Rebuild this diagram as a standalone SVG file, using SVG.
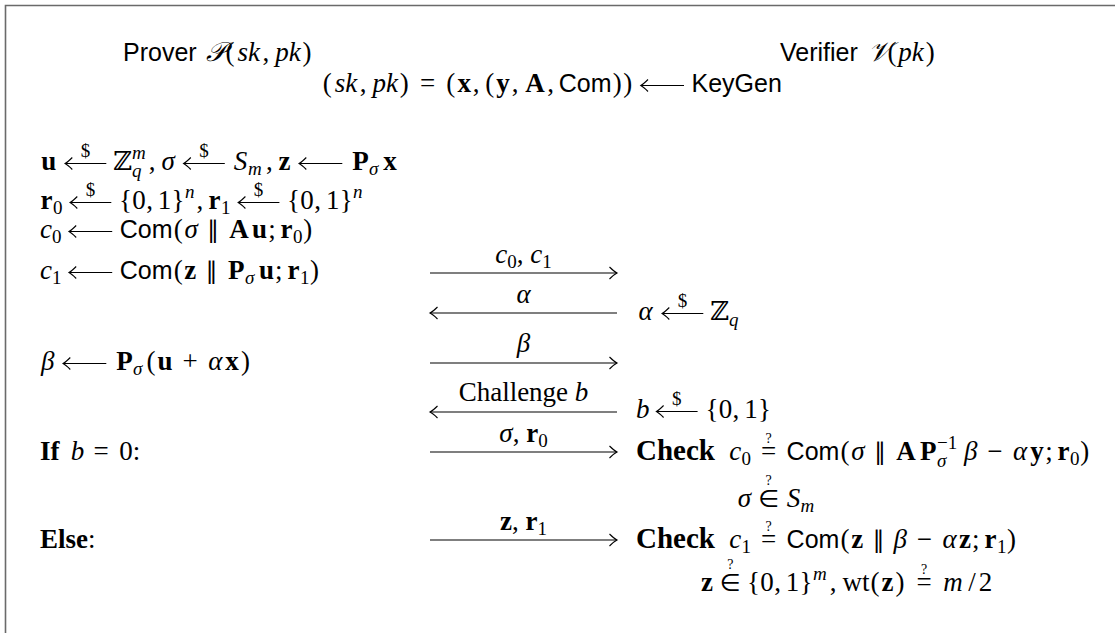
<svg xmlns="http://www.w3.org/2000/svg" width="1115" height="633" viewBox="0 0 1115 633">
<defs>
<style>
text{font-family:"Liberation Serif","Times New Roman",serif;font-size:27px;fill:#000}
.i{font-style:italic}
.b{font-weight:bold}
.m{text-anchor:middle}
.ck{font-weight:bold;font-size:29px}
.s{font-family:"Liberation Sans",Arial,sans-serif;font-size:25px}
.sc{font-size:19px}
.q{font-size:14px}
.sy{font-family:"DejaVu Sans",sans-serif;font-size:24px}
.bb{font-family:"DejaVu Serif","DejaVu Sans",serif;font-size:26px}
.cal{font-family:"DejaVu Serif","DejaVu Sans","Noto Sans",serif;font-style:italic}
.ln{stroke:#000;stroke-width:1.1;fill:none}
.frame{stroke:#6a6a6a;stroke-width:1.6;fill:none}
</style>
<marker id="ah" markerUnits="userSpaceOnUse" viewBox="-10 -8 12 16" refX="0" refY="0" markerWidth="12" markerHeight="16" orient="auto-start-reverse"><path d="M-7.5,-6Q-3,-1.5 0,0Q-3,1.5 -7.5,6" fill="none" stroke="#000" stroke-width="1.1"/></marker>
<g id="lla" class="ln"><path d="M0.5,0H43.5"/><path d="M7.5,-6Q3,-1.5 0.3,0Q3,1.5 7.5,6"/></g>
<g id="xla" class="ln"><path d="M0.5,0H41.5"/><path d="M7.5,-6Q3,-1.5 0.3,0Q3,1.5 7.5,6"/></g>
</defs>
<rect width="1115" height="633" fill="#fff"/>
<path id="frame" class="frame" d="M5.5,633V5.5H1115"/>

<g id="prover-header"><text><tspan class="s" x="123" y="61">Prover</tspan><tspan class="cal m" x="215.6" y="61">𝒫</tspan><tspan class="m" x="230" y="61">(</tspan><tspan class="i m" x="248.7" y="61">sk</tspan><tspan class="m" x="265.9" y="61">,</tspan><tspan class="i m" x="288" y="61">pk</tspan><tspan class="m" x="307" y="61">)</tspan></text></g>

<g id="verifier-header"><text><tspan class="s" x="780" y="61">Verifier</tspan><tspan class="cal m" x="878.7" y="61">𝒱</tspan><tspan class="m" x="892" y="61">(</tspan><tspan class="i m" x="911.1" y="61">pk</tspan><tspan class="m" x="930.2" y="61">)</tspan></text></g>

<g id="keygen"><text><tspan class="m" x="327.3" y="92">(</tspan><tspan class="i m" x="345.9" y="92">sk</tspan><tspan class="m" x="363" y="92">,</tspan><tspan class="i m" x="385.2" y="92">pk</tspan><tspan class="m" x="404.3" y="92">)</tspan><tspan class="m" x="427.5" y="92">=</tspan><tspan class="m" x="450.8" y="92">(</tspan><tspan class="b m" x="464.2" y="92">x</tspan><tspan class="m" x="476.2" y="92">,</tspan><tspan class="m" x="489.7" y="92">(</tspan><tspan class="b m" x="503.1" y="92">y</tspan><tspan class="m" x="515" y="92">,</tspan><tspan class="b m" x="535" y="92">A</tspan><tspan class="m" x="550.5" y="92">,</tspan><tspan class="s" x="558.8" y="92">Com</tspan><tspan class="m" x="617.3" y="92">)</tspan><tspan class="m" x="627.8" y="92">)</tspan><tspan class="s" x="691.5" y="92">KeyGen</tspan></text><use href="#lla" x="640.5" y="85.5"/></g>

<g id="prover-steps">
<text><tspan class="b m" x="48.7" y="170">u</tspan><tspan class="bb m" x="122.8" y="170">ℤ</tspan><tspan class="i sc" x="132" y="159">m</tspan><tspan class="i sc" x="132" y="177">q</tspan><tspan class="m" x="152.2" y="170">,</tspan><tspan class="i m" x="168.1" y="170">σ</tspan><tspan class="i m" x="240.6" y="170">S</tspan><tspan class="i sc" x="248" y="175">m</tspan><tspan class="m" x="269.3" y="170">,</tspan><tspan class="b m" x="284.4" y="170">z</tspan><tspan class="b m" x="360.4" y="170">P</tspan><tspan class="i sc" x="369" y="175">σ</tspan><tspan class="b m" x="390" y="170">x</tspan></text>
<use href="#xla" x="64.8" y="163.5"/><text class="sc m" x="85.5" y="157">$</text>
<use href="#xla" x="183.3" y="163.5"/><text class="sc m" x="204" y="157">$</text>
<use href="#lla" x="298.8" y="163.5"/>

<text><tspan class="b m" x="46.4" y="209">r</tspan><tspan class="sc" x="53" y="214">0</tspan><tspan class="m" x="125.6" y="209">{</tspan><tspan class="m" x="139" y="209">0</tspan><tspan class="m" x="149.6" y="209">,</tspan><tspan class="m" x="164.6" y="209">1</tspan><tspan class="m" x="178" y="209">}</tspan><tspan class="i sc" x="185" y="198">n</tspan><tspan class="m" x="199.9" y="209">,</tspan><tspan class="b m" x="214.5" y="209">r</tspan><tspan class="sc" x="221" y="214">1</tspan><tspan class="m" x="293.6" y="209">{</tspan><tspan class="m" x="307.1" y="209">0</tspan><tspan class="m" x="317.7" y="209">,</tspan><tspan class="m" x="332.7" y="209">1</tspan><tspan class="m" x="346.2" y="209">}</tspan><tspan class="i sc" x="353" y="198">n</tspan></text>
<use href="#xla" x="69.8" y="202.5"/><text class="sc m" x="90.5" y="196">$</text>
<use href="#xla" x="237.9" y="202.5"/><text class="sc m" x="258.6" y="196">$</text>

<text><tspan class="i m" x="45.9" y="238">c</tspan><tspan class="sc" x="52" y="243">0</tspan><tspan class="s" x="119.7" y="238">Com</tspan><tspan class="m" x="178.2" y="238">(</tspan><tspan class="i m" x="191.1" y="238">σ</tspan><tspan class="sy m" x="213" y="238">∥</tspan><tspan class="b m" x="239.1" y="238">A</tspan><tspan class="b m" x="259.5" y="238">u</tspan><tspan class="m" x="271.9" y="238">;</tspan><tspan class="b m" x="286.5" y="238">r</tspan><tspan class="sc" x="293" y="243">0</tspan><tspan class="m" x="307.7" y="238">)</tspan></text>
<use href="#lla" x="68.7" y="231.5"/>

<text><tspan class="i m" x="45.9" y="279">c</tspan><tspan class="sc" x="52" y="284">1</tspan><tspan class="s" x="119.7" y="279">Com</tspan><tspan class="m" x="178.2" y="279">(</tspan><tspan class="b m" x="190.3" y="279">z</tspan><tspan class="sy m" x="211.5" y="279">∥</tspan><tspan class="b m" x="236.3" y="279">P</tspan><tspan class="i sc" x="245" y="284">σ</tspan><tspan class="b m" x="266.4" y="279">u</tspan><tspan class="m" x="278.8" y="279">;</tspan><tspan class="b m" x="293.4" y="279">r</tspan><tspan class="sc" x="300" y="284">1</tspan><tspan class="m" x="314.6" y="279">)</tspan></text>
<use href="#lla" x="68.7" y="272.5"/>

<text><tspan class="i m" x="47.7" y="370">β</tspan><tspan class="b m" x="124.4" y="370">P</tspan><tspan class="i sc" x="133" y="375">σ</tspan><tspan class="m" x="151" y="370">(</tspan><tspan class="b m" x="164.9" y="370">u</tspan><tspan class="m" x="190.1" y="370">+</tspan><tspan class="i m" x="215.3" y="370">α</tspan><tspan class="b m" x="232.1" y="370">x</tspan><tspan class="m" x="245.6" y="370">)</tspan></text>
<use href="#lla" x="62.8" y="363.5"/>

<text><tspan class="b" x="40" y="460">If</tspan><tspan class="i m" x="77.4" y="460">b</tspan><tspan class="m" x="101.2" y="460">=</tspan><tspan class="m" x="126" y="460">0</tspan><tspan class="m" x="136.5" y="460">:</tspan></text>
<text x="40" y="548"><tspan class="b">Else</tspan>:</text>
</g>

<g id="verifier-steps">
<text><tspan class="i m" x="645.7" y="320">α</tspan><tspan class="bb m" x="719.8" y="320">ℤ</tspan><tspan class="i sc" x="729" y="326">q</tspan></text>
<use href="#xla" x="661.8" y="313.5"/><text class="sc m" x="682.5" y="307">$</text>

<text><tspan class="i m" x="642.8" y="418">b</tspan><tspan class="m" x="711.9" y="418">{</tspan><tspan class="m" x="725.4" y="418">0</tspan><tspan class="m" x="735.9" y="418">,</tspan><tspan class="m" x="750.9" y="418">1</tspan><tspan class="m" x="764.4" y="418">}</tspan></text>
<use href="#xla" x="656.1" y="411.5"/><text class="sc m" x="676.8" y="405">$</text>

<text><tspan class="ck" x="636" y="460">Check</tspan><tspan class="i m" x="735.3" y="460">c</tspan><tspan class="sc" x="741.5" y="465">0</tspan><tspan class="m" x="768.6" y="460">=</tspan><tspan class="s" x="786.6" y="460">Com</tspan><tspan class="m" x="845.1" y="460">(</tspan><tspan class="i m" x="858" y="460">σ</tspan><tspan class="sy m" x="880" y="460">∥</tspan><tspan class="b m" x="906" y="460">A</tspan><tspan class="b m" x="928.3" y="460">P</tspan><tspan class="sc" x="937" y="449">−1</tspan><tspan class="i sc" x="937" y="467">σ</tspan><tspan class="i m" x="970.8" y="460">β</tspan><tspan class="m" x="994.9" y="460">−</tspan><tspan class="i m" x="1020.1" y="460">α</tspan><tspan class="b m" x="1036.9" y="460">y</tspan><tspan class="m" x="1048.9" y="460">;</tspan><tspan class="b m" x="1063.5" y="460">r</tspan><tspan class="sc" x="1070" y="465">0</tspan><tspan class="m" x="1084.7" y="460">)</tspan></text>
<text class="q m" x="768.6" y="443">?</text>

<text><tspan class="i m" x="744.4" y="507">σ</tspan><tspan class="sy m" x="768.6" y="507">∈</tspan><tspan class="i m" x="793.4" y="507">S</tspan><tspan class="i sc" x="800.5" y="512">m</tspan></text>
<text class="q m" x="768.6" y="485">?</text>

<text><tspan class="ck" x="636" y="548">Check</tspan><tspan class="i m" x="735.3" y="548">c</tspan><tspan class="sc" x="741.5" y="553">1</tspan><tspan class="m" x="768.6" y="548">=</tspan><tspan class="s" x="786.6" y="548">Com</tspan><tspan class="m" x="845.1" y="548">(</tspan><tspan class="b m" x="857.2" y="548">z</tspan><tspan class="sy m" x="878.4" y="548">∥</tspan><tspan class="i m" x="900.3" y="548">β</tspan><tspan class="m" x="924.4" y="548">−</tspan><tspan class="i m" x="949.6" y="548">α</tspan><tspan class="b m" x="965.1" y="548">z</tspan><tspan class="m" x="975.8" y="548">;</tspan><tspan class="b m" x="990.4" y="548">r</tspan><tspan class="sc" x="997" y="553">1</tspan><tspan class="m" x="1011.6" y="548">)</tspan></text>
<text class="q m" x="768.6" y="531">?</text>

<text><tspan class="b m" x="706.9" y="591">z</tspan><tspan class="sy m" x="730.3" y="591">∈</tspan><tspan class="m" x="753.6" y="591">{</tspan><tspan class="m" x="767.1" y="591">0</tspan><tspan class="m" x="777.6" y="591">,</tspan><tspan class="m" x="792.6" y="591">1</tspan><tspan class="m" x="806.1" y="591">}</tspan><tspan class="i sc" x="813" y="580">m</tspan><tspan class="m" x="833.2" y="591">,</tspan><tspan class="m" x="856" y="591">wt</tspan><tspan class="m" x="875" y="591">(</tspan><tspan class="b m" x="887.5" y="591">z</tspan><tspan class="m" x="900" y="591">)</tspan><tspan class="m" x="924" y="591">=</tspan><tspan class="i m" x="953" y="591">m</tspan><tspan class="m" x="972" y="591">/</tspan><tspan class="m" x="985.5" y="591">2</tspan></text>
<text class="q m" x="730.3" y="569">?</text>
<text class="q m" x="924" y="574">?</text>
</g>

<g id="connectors">
<g class="ln">
<path d="M430,273H617" marker-end="url(#ah)"/>
<path d="M617,313H430" marker-end="url(#ah)"/>
<path d="M430,363H617" marker-end="url(#ah)"/>
<path d="M617,412H430" marker-end="url(#ah)"/>
<path d="M430,452H617" marker-end="url(#ah)"/>
<path d="M430,540H617" marker-end="url(#ah)"/>
</g>
<text class="m" x="523.5" y="263"><tspan class="i">c</tspan><tspan class="sc" dy="5">0</tspan><tspan dy="-5">, </tspan><tspan class="i">c</tspan><tspan class="sc" dy="5">1</tspan></text>
<text class="i m" x="523.5" y="303">α</text>
<text class="i m" x="523.5" y="352">β</text>
<text class="m" x="523.5" y="401">Challenge <tspan class="i">b</tspan></text>
<text class="m" x="523.5" y="442"><tspan class="i">σ</tspan>, <tspan class="b">r</tspan><tspan class="sc" dy="5">0</tspan></text>
<text class="m" x="523.5" y="530"><tspan class="b">z</tspan>, <tspan class="b">r</tspan><tspan class="sc" dy="5">1</tspan></text>
</g>
</svg>
